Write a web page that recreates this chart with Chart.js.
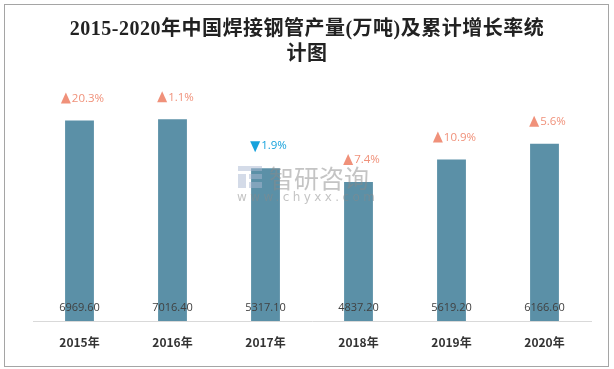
<!DOCTYPE html>
<html>
<head>
<meta charset="utf-8">
<script src="https://cdn.jsdelivr.net/npm/chart.js@4.4.1/dist/chart.umd.min.js"></script>
<style>
  body { margin: 0; background: #fff; }
  #wrap { position: relative; width: 614px; height: 369px; }
  #title {
    position: absolute; left: 0; top: 16px; width: 614px;
    text-align: center; font: bold 20px/25px 'Liberation Serif', 'Noto Sans CJK SC', serif;
    letter-spacing: 0.5px; color: #222;
  }
</style>
</head>
<body>
<div id="wrap">
  <canvas id="myBarChart" width="614" height="369"></canvas>
  <div id="title">2015-2020年中国焊接钢管产量(万吨)及累计增长率统<br>计图</div>
</div>
<script>
// data
const years = ['2015年', '2016年', '2017年', '2018年', '2019年', '2020年'];
const output = [6969.60, 7016.40, 5317.10, 4837.20, 5619.20, 6166.60];
const growth = [20.3, 1.1, -1.9, 7.4, 10.9, 5.6];

// white bg + grey frame
const framePlugin = {
  id: 'frame',
  beforeDraw(chart) {
    const c = chart.ctx;
    c.save();
    c.fillStyle = '#fff';
    c.fillRect(0, 0, chart.width, chart.height);
    c.strokeStyle = '#a5a5a5';
    c.lineWidth = 1;
    c.strokeRect(4.5, 4.5, 604, 362);
    c.restore();
  }
};

// value labels at bar bottom, growth labels above bars, watermark
const labelPlugin = {
  id: 'labels',
  afterDatasetsDraw(chart) {
    const c = chart.ctx;
    const meta = chart.getDatasetMeta(0);
    const base = chart.scales.y.getPixelForValue(0);
    c.save();
    c.textBaseline = 'middle';
    meta.data.forEach((bar, i) => {
      c.textAlign = 'center';
      c.font = '11px "Open Sans", sans-serif';
      c.fillStyle = '#404040';
      c.fillText(output[i].toFixed(2), bar.x, base - 13);

      // growth label: triangle + percent
      const up = growth[i] >= 0;
      const txt = Math.abs(growth[i]).toFixed(1) + '%';
      c.font = '11.5px "Open Sans", sans-serif';
      const tw = c.measureText(txt).width;
      const triW = 10, gap = 1;
      const x0 = bar.x + 3 - (triW + gap + tw) / 2;
      const y = bar.y - 22;
      c.fillStyle = up ? '#f0917a' : '#17a2dc';
      c.beginPath();
      if (up) {
        c.moveTo(x0, y + 5); c.lineTo(x0 + triW, y + 5); c.lineTo(x0 + triW / 2, y - 6);
      } else {
        c.moveTo(x0, y - 5); c.lineTo(x0 + triW, y - 5); c.lineTo(x0 + triW / 2, y + 6);
      }
      c.closePath();
      c.fill();
      c.textAlign = 'left';
      c.fillText(txt, x0 + triW + gap, y);
    });

    // watermark
    c.globalAlpha = 0.5;
    c.fillStyle = '#a9b8d2';
    c.fillRect(238, 166, 24, 5);
    c.fillRect(238, 174, 8, 14);
    c.fillRect(249, 174, 13, 5);
    c.fillRect(249, 182, 13, 6);
    c.fillStyle = '#8a8a8a';
    c.textAlign = 'left';
    c.font = '25px "Noto Sans CJK SC", sans-serif';
    c.fillText('智研咨询', 269, 178);
    c.font = '12px "DejaVu Sans", sans-serif';
    c.letterSpacing = '3.4px';
    c.fillText('www.chyxx.com', 237, 198);
    c.restore();
  }
};

const visitorChart = document.getElementById('myBarChart').getContext('2d');
const myBarChart = new Chart(visitorChart, {
  type: 'bar',
  data: {
    labels: years,
    datasets: [{
      data: output,
      backgroundColor: '#5b90a7',
      categoryPercentage: 1,
      barPercentage: 0.31
    }]
  },
  options: {
    responsive: false,
    animation: false,
    devicePixelRatio: 1,
    layout: { padding: { top: 91, left: 33, right: 23, bottom: 0 } },
    plugins: {
      legend: { display: false },
      tooltip: { enabled: false }
    },
    scales: {
      y: { display: false, min: 0, max: 8000 },
      x: {
        afterFit(scale) { scale.height = 48; },
        grid: { display: false, drawTicks: false },
        border: { display: true, color: '#d9d9d9', width: 1 },
        ticks: {
          padding: 14,
          color: '#333',
          font: { family: '"Noto Sans CJK SC", sans-serif', size: 12, weight: 'bold' }
        }
      }
    }
  },
  plugins: [framePlugin, labelPlugin]
});
</script>
</body>
</html>
